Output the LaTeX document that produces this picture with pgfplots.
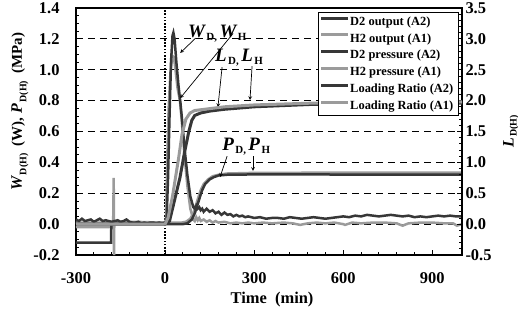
\documentclass[border=0pt]{standalone}
\usepackage{pgfplots}
\pgfplotsset{compat=1.18}
\usepackage{fontspec}
\setmainfont{Liberation Serif}
\definecolor{dk}{RGB}{55,55,55}
\definecolor{lt}{RGB}{155,155,155}
\newcommand\lab[4]{{\fontsize{#3}{#3}\selectfont\bfseries\itshape #1}\hspace{1.5bp}\raisebox{-0.3em}{\fontsize{#4}{#4}\selectfont\bfseries #2}}
\begin{document}
\begin{tikzpicture}
\pgfplotsset{
  every axis/.append style={
    width=386bp, height=247bp, scale only axis,
    xmin=-300, xmax=1000,
    axis line style={line width=1.5bp},
    tick style={black, line width=0.8bp},
    major tick length=5bp, minor tick length=3bp, tick align=inside,
    tick label style={font=\fontsize{16.5}{16.5}\selectfont\bfseries},
    /pgf/number format/assume math mode=true,
  },
}
\begin{axis}[
  at={(0,0)}, anchor=south west,
  ymin=-0.2, ymax=1.4,
  ytick={-0.2,0,0.2,0.4,0.6,0.8,1.0,1.2,1.4},
  xtick={-300,0,300,600,900},
  minor x tick num=4, minor y tick num=3,
  xtick pos=left, ytick pos=left,
  yticklabel style={/pgf/number format/fixed, /pgf/number format/fixed zerofill, /pgf/number format/precision=1, xshift=-13bp},
  xticklabel style={yshift=-14bp},
  ymajorgrids, grid style={black, dash pattern=on 7bp off 5bp, line width=0.8bp},
  xlabel={Time\ \ (min)},
  xlabel style={at={(axis description cs:0.508,-0.18)}, anchor=center, font=\fontsize{16.5}{16.5}\selectfont\bfseries},
  ylabel={\lab{W}{D(H)}{16}{10}\ \ (W),\ \lab{P}{D(H)}{16}{10}\ \ (MPa)},
  ylabel style={at={(axis description cs:-0.145,0.58)}, anchor=center, font=\fontsize{15}{15}\selectfont\bfseries},
]
% zero-time reference line
\addplot[black, line width=1.6bp, dash pattern=on 1.6bp off 1.6bp, forget plot] coordinates {(0,-0.2) (0,1.4)};
% H2 output (A1)
\addplot[lt, line width=2.5bp, forget plot] coordinates {
(-300,-0.02) (-250,-0.02) (-200,-0.02) (-175,-0.02) (-173,0.30) (-172,-0.2) (-171,0.015)
(-150,0.015) (-100,0.015) (-50,0.012) (0,0.012) (3,0.03) (7,0.4) (12,0.75) (18,0.98) (25,1.09) (30,1.08)
(35,1.0) (42,0.88) (50,0.8) (57,0.65) (65,0.45) (75,0.25) (85,0.1) (95,0.03)
(100,0.02) (105,0.045) (110,0.025) (115,0.04) (120,0.02) (130,0.03) (140,0.015) (150,0.025)
(160,0.01) (170,0.02) (180,0.01) (200,0.015) (220,0.005) (240,0.01) (260,0.005) (280,0.01)
(300,0.005) (330,0.01) (360,0.005) (400,0.01) (430,0.005) (455,-0.005) (480,0.005) (510,0.01)
(540,0.005) (570,0.01) (600,0.0) (606,-0.005) (630,0.01) (660,0.005) (700,0.01) (740,0.01)
(780,0.005) (800,-0.01) (820,0.005) (860,0.01) (900,0.01) (940,0.005) (970,0.005) (983,-0.01) (1000,0.0)};
% H2 pressure (A1)
\addplot[lt, line width=2.5bp, forget plot] coordinates {
(-300,0.01) (0,0.01) (55,0.01) (70,0.015) (85,0.035) (95,0.07) (105,0.13) (113,0.18) (120,0.22)
(130,0.26) (145,0.29) (160,0.31) (180,0.32) (210,0.328) (300,0.332) (500,0.333) (700,0.333) (1000,0.333)};
% D2 output (A2)
\addplot[dk, line width=2.5bp, forget plot] coordinates {
(-300,0.03) (-290,0.02) (-280,0.035) (-270,0.02) (-260,0.025) (-250,0.03) (-240,0.015) (-230,0.025)
(-220,0.035) (-210,0.02) (-200,0.025) (-190,0.02) (-180,0.015) (-170,0.02) (-160,0.025) (-150,0.015)
(-140,0.02) (-130,0.03) (-120,0.015) (-110,0.01) (-100,0.01) (-90,0.015) (-80,0.005) (-70,0.01)
(-60,0.005) (-50,0.01) (-40,0.01) (-30,0.005) (-20,0.01) (-10,0.005) (0,0.01) (5,0.02) (10,0.3)
(15,0.7) (20,1.05) (25,1.22) (28,1.24) (32,1.2) (38,1.05) (45,0.9) (52,0.78) (58,0.66) (65,0.5)
(75,0.32) (85,0.18) (95,0.11) (100,0.1) (105,0.12) (110,0.1) (115,0.11) (120,0.09) (125,0.1)
(130,0.08) (140,0.1) (150,0.08) (160,0.09) (170,0.07) (180,0.08) (190,0.06) (200,0.075) (210,0.06)
(220,0.065) (230,0.05) (240,0.06) (250,0.05) (260,0.055) (270,0.045) (280,0.05) (300,0.04)
(320,0.045) (340,0.035) (360,0.04) (380,0.04) (400,0.035) (420,0.045) (440,0.04) (460,0.035)
(480,0.04) (500,0.045) (520,0.04) (540,0.035) (560,0.04) (580,0.045) (600,0.05) (620,0.045)
(640,0.055) (660,0.05) (680,0.06) (700,0.055) (720,0.05) (740,0.055) (760,0.06) (780,0.055)
(800,0.05) (820,0.055) (840,0.045) (860,0.05) (880,0.045) (900,0.05) (920,0.055) (940,0.05)
(960,0.055) (980,0.05) (1000,0.05)};
% D2 pressure (A2)
\addplot[dk, line width=2.5bp, forget plot] coordinates {
(-300,-0.12) (-182,-0.12) (-181,0.0) (0,0.0) (60,0.0) (75,0.005) (90,0.03) (100,0.07) (110,0.13)
(118,0.18) (125,0.22) (135,0.26) (150,0.29) (165,0.305) (180,0.315) (210,0.32) (300,0.322)
(500,0.322) (700,0.32) (1000,0.32)};
% annotations
\node[anchor=base west, inner sep=0] at (axis cs:77,1.212) {\lab{W}{D,}{19}{11}\ \lab{W}{H}{19}{11}};
\draw[-stealth, line width=0.7bp] (axis cs:103,1.205) -- (axis cs:51,1.109);
\draw[-stealth, line width=0.7bp] (axis cs:229,1.235) -- (axis cs:51,0.816);
\node[anchor=base west, inner sep=0] at (axis cs:168,1.054) {\lab{L}{D,}{19}{11}\ \lab{L}{H}{19}{11}};
\draw[-stealth, line width=0.7bp] (axis cs:192,1.017) -- (axis cs:178,0.758);
\draw[-stealth, line width=0.7bp] (axis cs:293,1.024) -- (axis cs:286,0.804);
\node[anchor=base west, inner sep=0] at (axis cs:192,0.48) {\lab{P}{D,}{19}{11}\ \lab{P}{H}{19}{11}};
\draw[-stealth, line width=0.7bp] (axis cs:209,0.44) -- (axis cs:185,0.305);
\draw[-stealth, line width=0.7bp] (axis cs:296,0.44) -- (axis cs:296,0.345);
\end{axis}
\begin{axis}[
  at={(0,0)}, anchor=south west,
  ymin=-0.5, ymax=3.5,
  axis y line*=right, axis x line=none,
  ytick={-0.5,0,0.5,1.0,1.5,2.0,2.5,3.0,3.5},
  minor y tick num=4,
  yticklabel style={/pgf/number format/fixed, /pgf/number format/fixed zerofill, /pgf/number format/precision=1},
  ylabel={\lab{L}{D(H)}{16}{10}},
  ylabel style={at={(axis description cs:1.127,0.5)}, anchor=center},
  legend image code/.code={\fill[#1, draw=none] (0bp,2bp) rectangle (27bp,5bp);},
  legend style={at={(rel axis cs:0.992,0.984)}, anchor=north east, draw=black, line width=0.8bp,
    fill=white, font=\fontsize{12.5}{12.5}\selectfont\bfseries, inner xsep=3bp, inner ysep=2bp,
    row sep=2.3bp, nodes={fill=none, inner sep=2.2bp}},
  legend cell align=left,
]
\addlegendimage{dk}
\addlegendentry{D2 output (A2)}
\addlegendimage{lt}
\addlegendentry{H2 output (A1)}
\addlegendimage{dk}
\addlegendentry{D2 pressure (A2)}
\addlegendimage{lt}
\addlegendentry{H2 pressure (A1)}
% Loading Ratio (A2)
\addplot[dk, line width=3bp] coordinates {
(-300,0) (0,0) (15,0.05) (30,0.35) (50,0.75) (65,1.15) (80,1.5) (90,1.68) (100,1.76) (120,1.8)
(150,1.83) (200,1.86) (300,1.9) (400,1.92) (500,1.94) (700,1.95) (1000,1.96)};
\addlegendentry{Loading Ratio (A2)}
% Loading Ratio (A1)
\addplot[lt, line width=3bp] coordinates {
(-300,0) (0,0) (10,0.1) (25,0.45) (45,1.05) (57,1.45) (70,1.7) (84,1.8) (100,1.84) (150,1.87)
(200,1.9) (300,1.93) (500,1.96) (700,1.97) (1000,1.98)};
\addlegendentry{Loading Ratio (A1)}
\end{axis}
\pgfresetboundingbox
\path (-76bp,-65bp) rectangle (442bp,255bp);
\end{tikzpicture}
\end{document}
